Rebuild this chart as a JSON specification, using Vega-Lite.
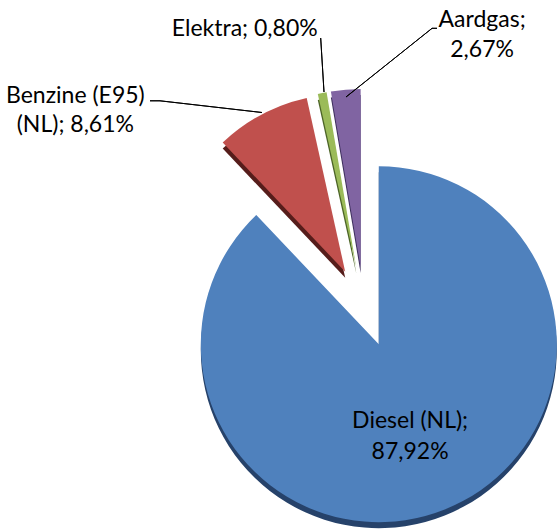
{
  "$schema": "https://vega.github.io/schema/vega-lite/v6.json",
  "width": 356,
  "height": 356,
  "autosize": {"type": "none"},
  "padding": {"left": 186, "top": 129, "right": 15, "bottom": 45},
  "background": "white",
  "config": {"view": {"stroke": null}},
  "data": {
    "values": [
      {"idx": 1, "name": "Diesel (NL)", "value": 87.92, "label": "Diesel (NL);|87,92%"},
      {"idx": 2, "name": "Benzine (E95) (NL)", "value": 8.61, "label": "Benzine (E95)|(NL); 8,61%"},
      {"idx": 3, "name": "Elektra", "value": 0.80, "label": "Elektra; 0,80%"},
      {"idx": 4, "name": "Aardgas", "value": 2.67, "label": "Aardgas;|2,67%"}
    ]
  },
  "transform": [
    {"stack": "value", "groupby": [], "sort": [{"field": "idx", "order": "ascending"}], "as": ["v0", "v1"]},
    {"calculate": "(datum.v0 + datum.v1) / 2", "as": "mid"}
  ],
  "layer": [
    {
      "transform": [{"filter": "datum.idx == 1"}],
      "mark": {"type": "arc", "fill": "#26426a", "xOffset": 14.8, "yOffset": 43.2},
      "encoding": {"theta": {"field": "v0", "type": "quantitative", "scale": {"domain": [0, 100]}}, "theta2": {"field": "v1"}}
    },
    {
      "transform": [{"filter": "datum.idx == 2"}],
      "mark": {"type": "arc", "fill": "#561d1b", "xOffset": -18.8, "yOffset": -29.3},
      "encoding": {"theta": {"field": "v0", "type": "quantitative", "scale": {"domain": [0, 100]}}, "theta2": {"field": "v1"}}
    },
    {
      "transform": [{"filter": "datum.idx == 3"}],
      "mark": {"type": "arc", "fill": "#4c6427", "xOffset": -7.7, "yOffset": -33.3},
      "encoding": {"theta": {"field": "v0", "type": "quantitative", "scale": {"domain": [0, 100]}}, "theta2": {"field": "v1"}}
    },
    {
      "transform": [{"filter": "datum.idx == 4"}],
      "mark": {"type": "arc", "fill": "#3d2e5c", "xOffset": -3.4, "yOffset": -33.9},
      "encoding": {"theta": {"field": "v0", "type": "quantitative", "scale": {"domain": [0, 100]}}, "theta2": {"field": "v1"}}
    },
    {
      "transform": [{"filter": "datum.idx == 1"}],
      "mark": {"type": "arc", "fill": "#4f81bd", "xOffset": 14.8, "yOffset": 37.2},
      "encoding": {"theta": {"field": "v0", "type": "quantitative", "scale": {"domain": [0, 100]}}, "theta2": {"field": "v1"}}
    },
    {
      "transform": [{"filter": "datum.idx == 2"}],
      "mark": {"type": "arc", "fill": "#c0504d", "xOffset": -18.8, "yOffset": -35.3},
      "encoding": {"theta": {"field": "v0", "type": "quantitative", "scale": {"domain": [0, 100]}}, "theta2": {"field": "v1"}}
    },
    {
      "transform": [{"filter": "datum.idx == 3"}],
      "mark": {"type": "arc", "fill": "#9bbb59", "xOffset": -7.7, "yOffset": -39.3},
      "encoding": {"theta": {"field": "v0", "type": "quantitative", "scale": {"domain": [0, 100]}}, "theta2": {"field": "v1"}}
    },
    {
      "transform": [{"filter": "datum.idx == 4"}],
      "mark": {"type": "arc", "fill": "#8064a2", "xOffset": -3.4, "yOffset": -39.9},
      "encoding": {"theta": {"field": "v0", "type": "quantitative", "scale": {"domain": [0, 100]}}, "theta2": {"field": "v1"}}
    },
    {
      "transform": [{"filter": "datum.idx == 2"}],
      "mark": {"type": "arc", "filled": false, "stroke": "#000000", "strokeWidth": 1, "xOffset": -102, "yOffset": -194.5, "radius": 102.7, "radius2": 0, "thetaOffset": -0.9682, "theta2Offset": -0.9682},
      "encoding": {"theta": {"field": "mid", "type": "quantitative"}, "theta2": {"field": "mid"}}
    },
    {
      "transform": [{"filter": "datum.idx == 2"}],
      "mark": {"type": "arc", "filled": false, "stroke": "#000000", "strokeWidth": 1, "xOffset": -204, "yOffset": -206.2, "radius": 10, "radius2": 0, "thetaOffset": -1.0823, "theta2Offset": -1.0823},
      "encoding": {"theta": {"field": "mid", "type": "quantitative"}, "theta2": {"field": "mid"}}
    },
    {
      "transform": [{"filter": "datum.idx == 3"}],
      "mark": {"type": "arc", "filled": false, "stroke": "#000000", "strokeWidth": 1, "xOffset": -40, "yOffset": -215, "radius": 54.1, "radius2": 0, "thetaOffset": 0.1318, "theta2Offset": 0.1318},
      "encoding": {"theta": {"field": "mid", "type": "quantitative"}, "theta2": {"field": "mid"}}
    },
    {
      "transform": [{"filter": "datum.idx == 4"}],
      "mark": {"type": "arc", "filled": false, "stroke": "#000000", "strokeWidth": 1, "xOffset": -18, "yOffset": -210, "radius": 110.1, "radius2": 0, "thetaOffset": 0.981, "theta2Offset": 0.981},
      "encoding": {"theta": {"field": "mid", "type": "quantitative"}, "theta2": {"field": "mid"}}
    },
    {
      "transform": [{"filter": "datum.idx == 4"}],
      "mark": {"type": "arc", "filled": false, "stroke": "#000000", "strokeWidth": 1, "xOffset": 68, "yOffset": -278.7, "radius": 5, "radius2": 0, "thetaOffset": 1.6547, "theta2Offset": 1.6547},
      "encoding": {"theta": {"field": "mid", "type": "quantitative"}, "theta2": {"field": "mid"}}
    },
    {
      "transform": [{"filter": "datum.idx == 1"}],
      "mark": {"type": "text", "radius": 138, "dx": -5, "dy": -14, "font": "Lato", "fontSize": 23, "lineBreak": "|", "lineHeight": 31, "align": "center", "baseline": "middle", "color": "#000000"},
      "encoding": {"theta": {"field": "mid", "type": "quantitative"}, "text": {"field": "label"}}
    },
    {
      "transform": [{"filter": "datum.idx == 2"}],
      "mark": {"type": "text", "radius": 223, "dx": -184, "dy": -14, "font": "Lato", "fontSize": 23, "lineBreak": "|", "lineHeight": 29, "align": "center", "baseline": "middle", "color": "#000000"},
      "encoding": {"theta": {"field": "mid", "type": "quantitative"}, "text": {"field": "label"}}
    },
    {
      "transform": [{"filter": "datum.idx == 3"}],
      "mark": {"type": "text", "radius": 283, "dx": -65, "dy": 0, "font": "Lato", "fontSize": 23, "lineBreak": "|", "lineHeight": 29, "align": "center", "baseline": "middle", "color": "#000000"},
      "encoding": {"theta": {"field": "mid", "type": "quantitative"}, "text": {"field": "label"}}
    },
    {
      "transform": [{"filter": "datum.idx == 4"}],
      "mark": {"type": "text", "radius": 273, "dx": 141, "dy": -15, "font": "Lato", "fontSize": 23, "lineBreak": "|", "lineHeight": 30, "align": "center", "baseline": "middle", "color": "#000000"},
      "encoding": {"theta": {"field": "mid", "type": "quantitative"}, "text": {"field": "label"}}
    }
  ]
}
